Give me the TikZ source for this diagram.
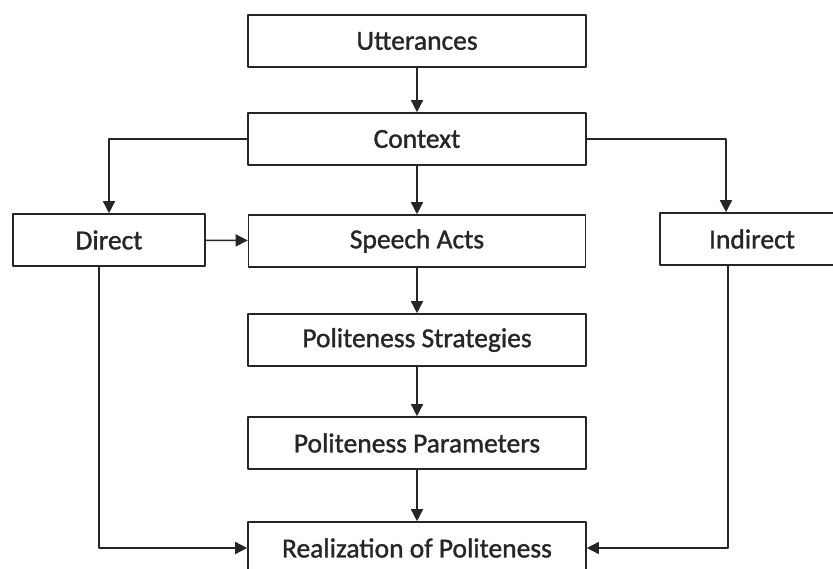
\documentclass[tikz,border=0pt]{standalone}
\usepackage{fontspec}
\setmainfont{Carlito}
\newfontfamily\hopfont[FakeBold=1.2]{Carlito}
\usepackage{xcolor}
\usepackage{tikz}
\usetikzlibrary{positioning,arrows.meta}

\begin{document}
\begin{tikzpicture}[x=1pt,y=-1pt, line cap=round, line join=round]
	% ===== khung ảnh =====
	\useasboundingbox (0,0) rectangle (833,569);
	\fill[white] (0,0) rectangle (833,569);
	\clip (0,0) rectangle (833,569);
	
	% ===== style =====
	\tikzset{
		hop/.style={draw=black!85, line width=1.6pt, fill=white, inner sep=0pt,
			minimum width=338pt, minimum height=52pt, font=\hopfont\fontsize{27.5}{30}\selectfont, text=black!85},
		muiten/.style={draw=black!85, line width=1.5pt, -{Triangle[length=12pt,width=12pt]}}
	}
	
	% ===== các hộp =====
	\node[hop] (utt) at (417,41) {Utterances};
	\node[hop] (ctx) at (417,139) {Context};
	\node[hop, minimum width=192pt] (direct) at (109,240) {Direct};
	\node[hop, minimum width=337pt] (speech) at (417,241) {Speech Acts};
	\node[hop, minimum width=184pt] (indirect) at (752,239) {Indirect};
	\node[hop] (strat) at (417,340) {Politeness Strategies};
	\node[hop] (param) at (417,443) {Politeness Parameters};
	\node[hop] (real) at (417,548) {Realization of Politeness};
	
	% ===== các mũi tên =====
	\draw[muiten] (utt) -- (ctx);
	\draw[muiten] (ctx) -- (speech);
	\draw[muiten] (ctx.west) -| (direct.north);
	\draw[muiten] (ctx.east) -| ([xshift=-26pt]indirect.north);
	\draw[muiten] (direct) -- (speech);
	\draw[muiten] (speech) -- (strat);
	\draw[muiten] (strat) -- (param);
	\draw[muiten] (param) -- (real);
	\draw[muiten] ([xshift=-10pt]direct.south) |- (real.west);
	\draw[muiten] ([xshift=-24pt]indirect.south) |- (real.east);
\end{tikzpicture}
\end{document}
